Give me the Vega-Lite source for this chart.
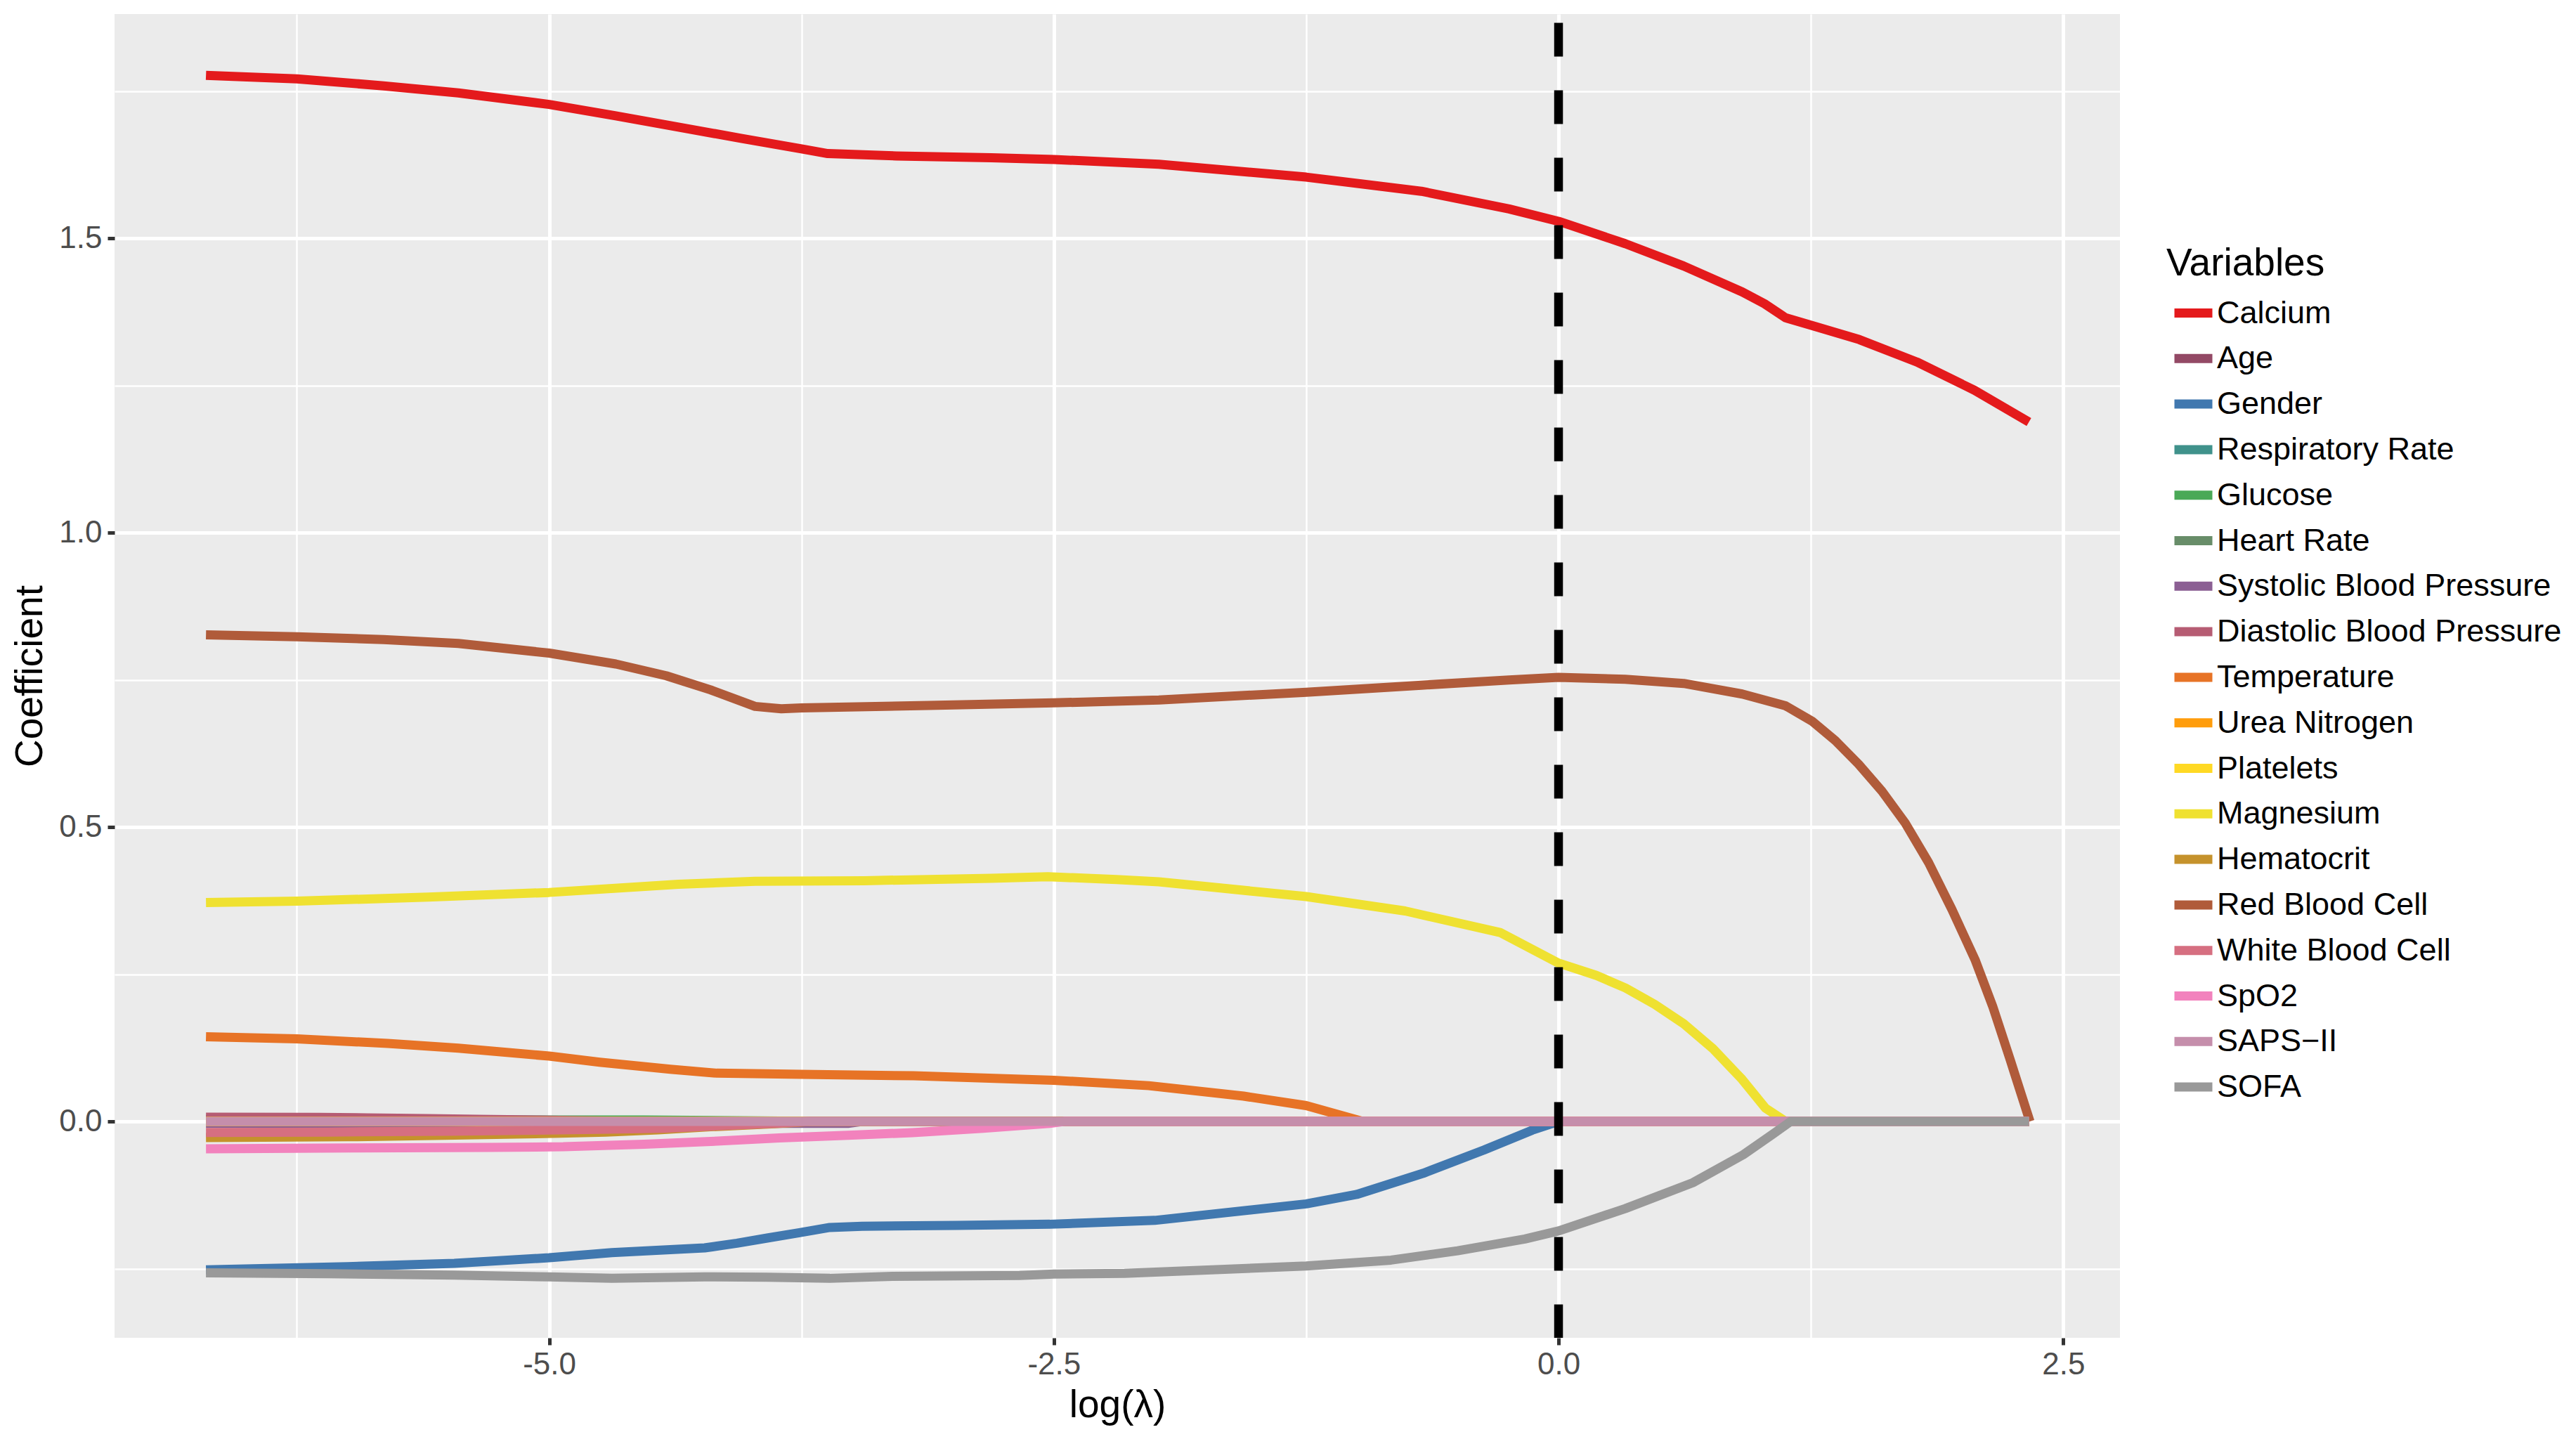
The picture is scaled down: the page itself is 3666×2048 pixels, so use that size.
{
  "$schema": "https://vega.github.io/schema/vega-lite/v6.json",
  "autosize": {"type": "none"},
  "padding": {"left": 163, "top": 20, "right": 649, "bottom": 144},
  "width": 2854,
  "height": 1884,
  "background": "white",
  "config": {
    "font": "Liberation Sans",
    "view": {"fill": "#EBEBEB", "stroke": null},
    "axis": {
      "domain": false,
      "grid": true,
      "gridColor": "white",
      "tickColor": "#333333",
      "tickWidth": 5,
      "tickSize": 10,
      "labelFont": "Liberation Sans",
      "labelFontSize": 44,
      "labelColor": "#4D4D4D",
      "titleFont": "Liberation Sans",
      "titleFontSize": 55,
      "titleFontWeight": "normal",
      "titleColor": "black"
    }
  },
  "layer": [
    {
      "data": {"values": [
        {"v":"Calcium","x":-6.7,"y":1.777},{"v":"Calcium","x":-6.25,"y":1.771},{"v":"Calcium","x":-5.82,"y":1.759},{"v":"Calcium","x":-5.45,"y":1.747},{"v":"Calcium","x":-5.0,"y":1.7275},{"v":"Calcium","x":-4.67,"y":1.708},{"v":"Calcium","x":-4.36,"y":1.689},{"v":"Calcium","x":-4.05,"y":1.67},{"v":"Calcium","x":-3.75,"y":1.652},{"v":"Calcium","x":-3.62,"y":1.644},{"v":"Calcium","x":-3.28,"y":1.64},{"v":"Calcium","x":-2.81,"y":1.637},{"v":"Calcium","x":-2.5,"y":1.634},{"v":"Calcium","x":-1.98,"y":1.626},{"v":"Calcium","x":-1.25,"y":1.604},{"v":"Calcium","x":-0.68,"y":1.58},{"v":"Calcium","x":-0.245,"y":1.55},{"v":"Calcium","x":0,"y":1.529},{"v":"Calcium","x":0.33,"y":1.491},{"v":"Calcium","x":0.62,"y":1.453},{"v":"Calcium","x":0.91,"y":1.409},{"v":"Calcium","x":1.02,"y":1.389},{"v":"Calcium","x":1.125,"y":1.365},{"v":"Calcium","x":1.255,"y":1.352},{"v":"Calcium","x":1.49,"y":1.328},{"v":"Calcium","x":1.775,"y":1.29},{"v":"Calcium","x":2.06,"y":1.242},{"v":"Calcium","x":2.33,"y":1.188},
        {"v":"Age","x":-6.7,"y":0},{"v":"Age","x":2.33,"y":0},
        {"v":"Gender","x":-6.7,"y":-0.252},{"v":"Gender","x":-6.0,"y":-0.2466},{"v":"Gender","x":-5.47,"y":-0.241},{"v":"Gender","x":-5.0,"y":-0.2315},{"v":"Gender","x":-4.69,"y":-0.2228},{"v":"Gender","x":-4.23,"y":-0.2148},{"v":"Gender","x":-4.07,"y":-0.2068},{"v":"Gender","x":-3.92,"y":-0.198},{"v":"Gender","x":-3.76,"y":-0.189},{"v":"Gender","x":-3.61,"y":-0.18},{"v":"Gender","x":-3.45,"y":-0.178},{"v":"Gender","x":-2.98,"y":-0.1766},{"v":"Gender","x":-2.52,"y":-0.1746},{"v":"Gender","x":-2.0,"y":-0.168},{"v":"Gender","x":-1.25,"y":-0.14},{"v":"Gender","x":-1.0,"y":-0.124},{"v":"Gender","x":-0.67,"y":-0.088},{"v":"Gender","x":-0.37,"y":-0.0486},{"v":"Gender","x":-0.13,"y":-0.0147},{"v":"Gender","x":0,"y":0},{"v":"Gender","x":2.33,"y":0},
        {"v":"Respiratory Rate","x":-6.7,"y":0},{"v":"Respiratory Rate","x":2.33,"y":0},
        {"v":"Glucose","x":-6.7,"y":0.003},{"v":"Glucose","x":-4.53,"y":0.0024},{"v":"Glucose","x":-4.08,"y":0.0012},{"v":"Glucose","x":-3.75,"y":0.0005},{"v":"Glucose","x":-3.7,"y":0},{"v":"Glucose","x":2.33,"y":0},
        {"v":"Heart Rate","x":-6.7,"y":0},{"v":"Heart Rate","x":2.33,"y":0},
        {"v":"Systolic Blood Pressure","x":-6.7,"y":-0.0032},{"v":"Systolic Blood Pressure","x":-3.52,"y":-0.0032},{"v":"Systolic Blood Pressure","x":-3.45,"y":0},{"v":"Systolic Blood Pressure","x":2.33,"y":0},
        {"v":"Diastolic Blood Pressure","x":-6.7,"y":0.0072},{"v":"Diastolic Blood Pressure","x":-6.14,"y":0.0071},{"v":"Diastolic Blood Pressure","x":-5.9,"y":0.006},{"v":"Diastolic Blood Pressure","x":-5.6,"y":0.0048},{"v":"Diastolic Blood Pressure","x":-5.35,"y":0.0036},{"v":"Diastolic Blood Pressure","x":-5.05,"y":0.0024},{"v":"Diastolic Blood Pressure","x":-4.85,"y":0.0012},{"v":"Diastolic Blood Pressure","x":-4.6,"y":0},{"v":"Diastolic Blood Pressure","x":2.33,"y":0},
        {"v":"Temperature","x":-6.7,"y":0.144},{"v":"Temperature","x":-6.25,"y":0.1404},{"v":"Temperature","x":-5.8,"y":0.1325},{"v":"Temperature","x":-5.45,"y":0.1245},{"v":"Temperature","x":-5.0,"y":0.111},{"v":"Temperature","x":-4.75,"y":0.1006},{"v":"Temperature","x":-4.4,"y":0.0887},{"v":"Temperature","x":-4.17,"y":0.082},{"v":"Temperature","x":-3.75,"y":0.08},{"v":"Temperature","x":-3.195,"y":0.0776},{"v":"Temperature","x":-2.5,"y":0.07},{"v":"Temperature","x":-2.03,"y":0.0608},{"v":"Temperature","x":-1.56,"y":0.043},{"v":"Temperature","x":-1.25,"y":0.027},{"v":"Temperature","x":-0.97,"y":0},{"v":"Temperature","x":2.33,"y":0},
        {"v":"Urea Nitrogen","x":-6.7,"y":0},{"v":"Urea Nitrogen","x":2.33,"y":0},
        {"v":"Platelets","x":-6.7,"y":0},{"v":"Platelets","x":2.33,"y":0},
        {"v":"Magnesium","x":-6.7,"y":0.372},{"v":"Magnesium","x":-6.25,"y":0.3743},{"v":"Magnesium","x":-5.6,"y":0.381},{"v":"Magnesium","x":-5.0,"y":0.389},{"v":"Magnesium","x":-4.36,"y":0.403},{"v":"Magnesium","x":-3.98,"y":0.408},{"v":"Magnesium","x":-3.44,"y":0.409},{"v":"Magnesium","x":-2.81,"y":0.413},{"v":"Magnesium","x":-2.53,"y":0.4157},{"v":"Magnesium","x":-2.19,"y":0.411},{"v":"Magnesium","x":-1.98,"y":0.407},{"v":"Magnesium","x":-1.25,"y":0.382},{"v":"Magnesium","x":-0.76,"y":0.3575},{"v":"Magnesium","x":-0.29,"y":0.321},{"v":"Magnesium","x":0,"y":0.269},{"v":"Magnesium","x":0.1876,"y":0.248},{"v":"Magnesium","x":0.332,"y":0.2267},{"v":"Magnesium","x":0.476,"y":0.199},{"v":"Magnesium","x":0.62,"y":0.166},{"v":"Magnesium","x":0.765,"y":0.1236},{"v":"Magnesium","x":0.909,"y":0.0716},{"v":"Magnesium","x":1.025,"y":0.0227},{"v":"Magnesium","x":1.125,"y":0},{"v":"Magnesium","x":2.33,"y":0},
        {"v":"Hematocrit","x":-6.7,"y":-0.0274},{"v":"Hematocrit","x":-6.0,"y":-0.026},{"v":"Hematocrit","x":-5.57,"y":-0.0239},{"v":"Hematocrit","x":-4.98,"y":-0.0203},{"v":"Hematocrit","x":-4.72,"y":-0.018},{"v":"Hematocrit","x":-4.46,"y":-0.0143},{"v":"Hematocrit","x":-4.2,"y":-0.009},{"v":"Hematocrit","x":-3.9,"y":-0.004},{"v":"Hematocrit","x":-3.7,"y":0},{"v":"Hematocrit","x":2.33,"y":0},
        {"v":"Red Blood Cell","x":-6.7,"y":0.8266},{"v":"Red Blood Cell","x":-6.25,"y":0.8234},{"v":"Red Blood Cell","x":-5.82,"y":0.8186},{"v":"Red Blood Cell","x":-5.45,"y":0.812},{"v":"Red Blood Cell","x":-5.0,"y":0.7955},{"v":"Red Blood Cell","x":-4.67,"y":0.777},{"v":"Red Blood Cell","x":-4.42,"y":0.757},{"v":"Red Blood Cell","x":-4.2,"y":0.733},{"v":"Red Blood Cell","x":-3.98,"y":0.705},{"v":"Red Blood Cell","x":-3.85,"y":0.701},{"v":"Red Blood Cell","x":-3.75,"y":0.7025},{"v":"Red Blood Cell","x":-3.12,"y":0.7065},{"v":"Red Blood Cell","x":-2.5,"y":0.711},{"v":"Red Blood Cell","x":-1.98,"y":0.716},{"v":"Red Blood Cell","x":-1.25,"y":0.729},{"v":"Red Blood Cell","x":-0.68,"y":0.741},{"v":"Red Blood Cell","x":-0.245,"y":0.75},{"v":"Red Blood Cell","x":0,"y":0.7545},{"v":"Red Blood Cell","x":0.33,"y":0.751},{"v":"Red Blood Cell","x":0.62,"y":0.744},{"v":"Red Blood Cell","x":0.91,"y":0.726},{"v":"Red Blood Cell","x":1.125,"y":0.706},{"v":"Red Blood Cell","x":1.2555,"y":0.68},{"v":"Red Blood Cell","x":1.371,"y":0.647},{"v":"Red Blood Cell","x":1.486,"y":0.607},{"v":"Red Blood Cell","x":1.602,"y":0.561},{"v":"Red Blood Cell","x":1.717,"y":0.507},{"v":"Red Blood Cell","x":1.833,"y":0.4397},{"v":"Red Blood Cell","x":1.948,"y":0.3605},{"v":"Red Blood Cell","x":2.063,"y":0.275},{"v":"Red Blood Cell","x":2.15,"y":0.196},{"v":"Red Blood Cell","x":2.237,"y":0.105},{"v":"Red Blood Cell","x":2.335,"y":0},
        {"v":"White Blood Cell","x":-6.7,"y":-0.0187},{"v":"White Blood Cell","x":-6.1,"y":-0.018},{"v":"White Blood Cell","x":-5.5,"y":-0.0165},{"v":"White Blood Cell","x":-5.0,"y":-0.0145},{"v":"White Blood Cell","x":-4.7,"y":-0.013},{"v":"White Blood Cell","x":-4.43,"y":-0.0115},{"v":"White Blood Cell","x":-4.12,"y":-0.0068},{"v":"White Blood Cell","x":-3.86,"y":-0.003},{"v":"White Blood Cell","x":-3.72,"y":0},{"v":"White Blood Cell","x":2.33,"y":0},
        {"v":"SpO2","x":-6.7,"y":-0.0465},{"v":"SpO2","x":-5.97,"y":-0.045},{"v":"SpO2","x":-5.3,"y":-0.044},{"v":"SpO2","x":-4.93,"y":-0.043},{"v":"SpO2","x":-4.53,"y":-0.0386},{"v":"SpO2","x":-4.2,"y":-0.034},{"v":"SpO2","x":-3.86,"y":-0.028},{"v":"SpO2","x":-3.52,"y":-0.0235},{"v":"SpO2","x":-3.2,"y":-0.019},{"v":"SpO2","x":-2.85,"y":-0.0115},{"v":"SpO2","x":-2.52,"y":-0.0032},{"v":"SpO2","x":-2.45,"y":0},{"v":"SpO2","x":2.33,"y":0},
        {"v":"SAPS\u2212II","x":-6.7,"y":0},{"v":"SAPS\u2212II","x":2.33,"y":0},
        {"v":"SOFA","x":-6.7,"y":-0.257},{"v":"SOFA","x":-6.09,"y":-0.2586},{"v":"SOFA","x":-5.47,"y":-0.261},{"v":"SOFA","x":-5.0,"y":-0.264},{"v":"SOFA","x":-4.69,"y":-0.2665},{"v":"SOFA","x":-4.23,"y":-0.264},{"v":"SOFA","x":-3.92,"y":-0.2645},{"v":"SOFA","x":-3.61,"y":-0.2665},{"v":"SOFA","x":-3.3,"y":-0.263},{"v":"SOFA","x":-2.67,"y":-0.2617},{"v":"SOFA","x":-2.5,"y":-0.2593},{"v":"SOFA","x":-2.15,"y":-0.258},{"v":"SOFA","x":-1.25,"y":-0.2455},{"v":"SOFA","x":-0.83,"y":-0.2355},{"v":"SOFA","x":-0.5,"y":-0.2196},{"v":"SOFA","x":-0.167,"y":-0.1997},{"v":"SOFA","x":0,"y":-0.186},{"v":"SOFA","x":0.33,"y":-0.148},{"v":"SOFA","x":0.665,"y":-0.104},{"v":"SOFA","x":0.915,"y":-0.0565},{"v":"SOFA","x":1.065,"y":-0.0207},{"v":"SOFA","x":1.15,"y":0},{"v":"SOFA","x":2.33,"y":0}
      ]},
      "mark": {"type": "line", "strokeWidth": 13, "strokeCap": "butt", "strokeJoin": "round"},
      "encoding": {
        "x": {
          "field": "x", "type": "quantitative",
          "scale": {"domain": [-7.153, 2.781], "nice": false, "zero": false},
          "axis": {
            "title": "log(\u03bb)",
            "values": [-6.25, -5, -3.75, -2.5, -1.25, 0, 1.25, 2.5],
            "labelExpr": "datum.value % 0.5 == 0 ? replace(format(datum.value, '.1f'), '\u2212', '-') : ''",
            "tickOpacity": {"condition": {"test": "datum.value % 0.5 != 0", "value": 0}, "value": 1},
            "gridWidth": {"condition": {"test": "datum.value % 0.5 != 0", "value": 2.5}, "value": 5},
            "labelPadding": 6,
            "titlePadding": 9
          }
        },
        "y": {
          "field": "y", "type": "quantitative",
          "scale": {"domain": [-0.3675, 1.881], "nice": false, "zero": false},
          "axis": {
            "title": "Coefficient",
            "values": [-0.25, 0, 0.25, 0.5, 0.75, 1, 1.25, 1.5, 1.75],
            "labelExpr": "datum.value % 0.5 == 0 ? replace(format(datum.value, '.1f'), '\u2212', '-') : ''",
            "tickOpacity": {"condition": {"test": "datum.value % 0.5 != 0", "value": 0}, "value": 1},
            "gridWidth": {"condition": {"test": "datum.value % 0.5 != 0", "value": 2.5}, "value": 5},
            "labelPadding": 8,
            "titlePadding": 12
          }
        },
        "color": {
          "field": "v", "type": "nominal",
          "scale": {
            "domain": ["Calcium","Age","Gender","Respiratory Rate","Glucose","Heart Rate","Systolic Blood Pressure","Diastolic Blood Pressure","Temperature","Urea Nitrogen","Platelets","Magnesium","Hematocrit","Red Blood Cell","White Blood Cell","SpO2","SAPS\u2212II","SOFA"],
            "range": ["#E41A1C","#934965","#4178AF","#40928B","#4AA957","#688D69","#8B5F93","#B65C73","#E77326","#FF9D0C","#FFD924","#EFE131","#C5922C","#B05B3A","#D66F81","#F282BD","#C58EAB","#999999"]
          },
          "legend": {
            "title": "Variables",
            "orient": "none",
            "legendX": 2920,
            "legendY": 329,
            "padding": 0,
            "titleFont": "Liberation Sans",
            "titleFontSize": 55,
            "titleFontWeight": "normal",
            "titleColor": "black",
            "titlePadding": 5,
            "titleLimit": 0,
            "labelFont": "Liberation Sans",
            "labelFontSize": 45,
            "labelColor": "black",
            "labelLimit": 0,
            "symbolType": "M-0.9,0H0.9",
            "symbolSize": 3600,
            "symbolStrokeWidth": 13,
            "symbolOffset": 2,
            "labelOffset": -3,
            "rowPadding": 1.8
          }
        }
      }
    },
    {
      "data": {"values": [{"x": 0}]},
      "mark": {"type": "rule", "color": "black", "strokeWidth": 12.5, "strokeDash": [48, 48], "strokeDashOffset": 83.6},
      "encoding": {"x": {"field": "x", "type": "quantitative"}}
    }
  ]
}
